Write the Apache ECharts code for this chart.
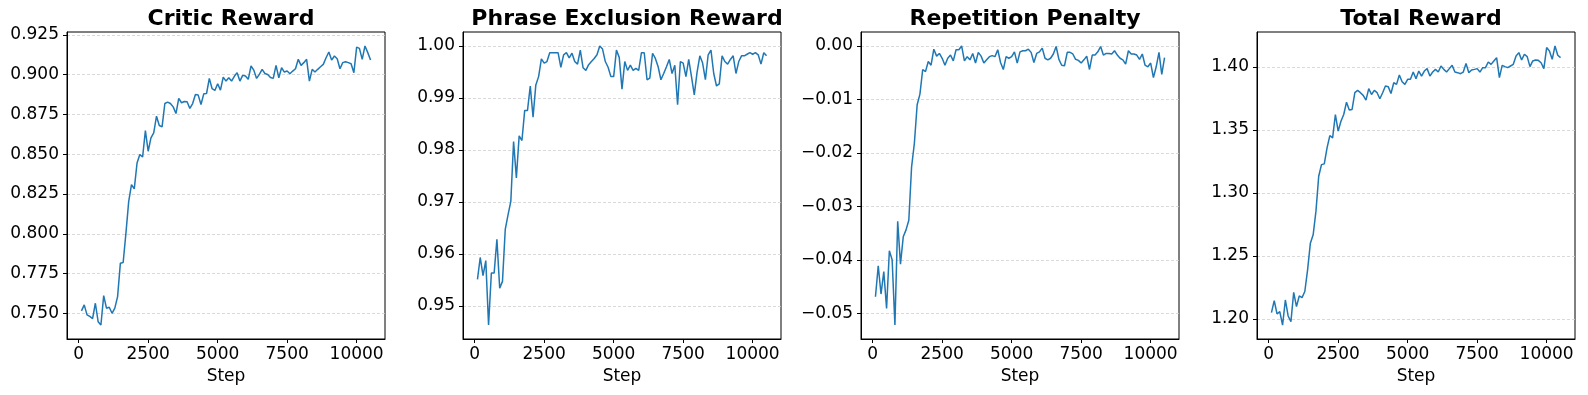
<!DOCTYPE html>
<html>
<head>
<meta charset="utf-8">
<script src="https://cdn.jsdelivr.net/npm/echarts@6/dist/echarts.min.js"></script>
<style>
html,body{margin:0;padding:0;background:#fff;}
#chart{width:1588px;height:395px;}
</style>
</head>
<body>
<div id="chart"></div>
<script>
var steps = [100,200,300,400,500,600,700,800,900,1000,1100,1200,1300,1400,1500,1600,1700,1800,1900,2000,
2100,2200,2300,2400,2500,2600,2700,2800,2900,3000,3100,3200,3300,3400,3500,3600,3700,3800,3900,4000,
4100,4200,4300,4400,4500,4600,4700,4800,4900,5000,5100,5200,5300,5400,5500,5600,5700,5800,5900,6000,
6100,6200,6300,6400,6500,6600,6700,6800,6900,7000,7100,7200,7300,7400,7500,7600,7700,7800,7900,8000,
8100,8200,8300,8400,8500,8600,8700,8800,8900,9000,9100,9200,9300,9400,9500,9600,9700,9800,9900,10000,
10100,10200,10300,10400,10500];

var titles = ["Critic Reward", "Phrase Exclusion Reward", "Repetition Penalty", "Total Reward"];
var xLabel = "Step";
var xTicks = [0, 2500, 5000, 7500, 10000];

var criticReward = [0.7515,0.7553,0.7490,0.7480,0.7467,0.7563,0.7447,0.7426,0.7611,0.7532,
0.7538,0.7500,0.7532,0.7605,0.7815,0.7819,0.8004,0.8204,0.8309,0.8282,
0.8445,0.8498,0.8483,0.8649,0.8519,0.8603,0.8634,0.8739,0.8681,0.8672,
0.8819,0.8828,0.8819,0.8798,0.8756,0.8851,0.8824,0.8832,0.8830,0.8788,
0.8819,0.8876,0.8872,0.8813,0.8880,0.8882,0.8977,0.8912,0.8901,0.8943,
0.8903,0.8985,0.8960,0.8981,0.8960,0.8990,0.9013,0.8960,0.8996,0.8992,
0.8971,0.9055,0.9029,0.8977,0.9002,0.9034,0.9008,0.9002,0.8983,0.8977,
0.9059,0.8981,0.9044,0.9017,0.9023,0.9006,0.9023,0.9038,0.9097,0.9059,
0.9076,0.9097,0.8960,0.9034,0.9017,0.9034,0.9050,0.9065,0.9107,0.9143,
0.9092,0.9118,0.9101,0.9038,0.9076,0.9082,0.9076,0.9069,0.9013,0.9174,
0.9166,0.9097,0.9181,0.9139,0.9092];

var phraseExclusionReward = [0.9551,0.9593,0.9558,0.9587,0.9463,0.9563,0.9563,0.9628,0.9534,0.9547,
0.9647,0.9675,0.9701,0.9816,0.9746,0.9827,0.9818,0.9876,0.9876,0.9923,
0.9863,0.9925,0.9941,0.9975,0.9967,0.9970,0.9987,0.9987,0.9987,0.9987,
0.9959,0.9983,0.9987,0.9977,0.9986,0.9970,0.9965,0.9992,0.9958,0.9953,
0.9964,0.9970,0.9976,0.9983,1.0000,0.9994,0.9970,0.9959,0.9941,0.9941,
0.9992,0.9978,0.9917,0.9970,0.9953,0.9963,0.9953,0.9957,0.9953,0.9987,
0.9987,0.9935,0.9938,0.9986,0.9976,0.9960,0.9935,0.9947,0.9960,0.9974,
0.9947,0.9963,0.9887,0.9970,0.9967,0.9941,0.9974,0.9941,0.9906,0.9949,
0.9981,0.9967,0.9935,0.9983,0.9992,0.9947,0.9923,0.9927,0.9981,0.9970,
0.9965,0.9974,0.9981,0.9947,0.9970,0.9981,0.9981,0.9984,0.9987,0.9984,
0.9987,0.9983,0.9965,0.9987,0.9981];

var repetitionPenalty = [-0.0469,-0.0411,-0.0464,-0.0422,-0.0491,-0.0383,-0.0400,-0.0522,-0.0328,-0.0408,
-0.0357,-0.0344,-0.0326,-0.0226,-0.0182,-0.0110,-0.0090,-0.0044,-0.0048,-0.0029,
-0.0036,-0.0006,-0.0019,-0.0014,-0.0023,-0.0036,-0.0023,-0.0017,-0.0028,-0.0007,
-0.0007,0.0000,-0.0028,-0.0020,-0.0026,-0.0014,-0.0032,-0.0012,-0.0019,-0.0032,
-0.0026,-0.0020,-0.0018,-0.0020,-0.0007,-0.0031,-0.0044,-0.0020,-0.0023,-0.0020,
-0.0011,-0.0032,-0.0011,-0.0009,-0.0009,-0.0006,-0.0012,-0.0031,-0.0014,-0.0011,
-0.0004,-0.0023,-0.0026,-0.0023,-0.0015,-0.0001,-0.0025,-0.0036,-0.0037,-0.0012,
-0.0012,-0.0015,-0.0025,-0.0027,-0.0032,-0.0026,-0.0019,-0.0044,-0.0017,-0.0017,
-0.0011,-0.0001,-0.0017,-0.0014,-0.0014,-0.0015,-0.0009,-0.0017,-0.0023,-0.0026,
-0.0034,-0.0009,-0.0015,-0.0015,-0.0017,-0.0025,-0.0015,-0.0036,-0.0039,-0.0032,
-0.0059,-0.0039,-0.0012,-0.0053,-0.0022];

var totalReward = [1.2050,1.2146,1.2040,1.2058,1.1952,1.2151,1.2024,1.1979,1.2212,1.2098,
1.2183,1.2170,1.2218,1.2390,1.2602,1.2668,1.2854,1.3133,1.3225,1.3231,
1.3358,1.3456,1.3438,1.3623,1.3491,1.3570,1.3623,1.3721,1.3658,1.3663,
1.3796,1.3814,1.3796,1.3775,1.3737,1.3828,1.3782,1.3814,1.3796,1.3748,
1.3796,1.3849,1.3844,1.3790,1.3875,1.3862,1.3936,1.3883,1.3862,1.3902,
1.3902,1.3960,1.3907,1.3968,1.3928,1.3968,1.3987,1.3928,1.3960,1.3981,
1.3960,1.4008,1.3981,1.3960,1.3987,1.4013,1.3960,1.3955,1.3947,1.3960,
1.4027,1.3955,1.3976,1.3981,1.3987,1.3960,1.3995,1.3995,1.4040,1.4021,
1.4048,1.4074,1.3915,1.4013,1.4003,1.3995,1.4008,1.4021,1.4088,1.4114,
1.4056,1.4101,1.4082,1.4003,1.4048,1.4056,1.4053,1.4034,1.3987,1.4154,
1.4127,1.4061,1.4167,1.4093,1.4074];

var yTicksCritic = [0.750, 0.775, 0.800, 0.825, 0.850, 0.875, 0.900, 0.925];
var yTicksPhrase = [0.95, 0.96, 0.97, 0.98, 0.99, 1.00];
var yTicksRep = [-0.05, -0.04, -0.03, -0.02, -0.01, 0.00];
var yTicksTotal = [1.20, 1.25, 1.30, 1.35, 1.40];

var seriesList = [criticReward, phraseExclusionReward, repetitionPenalty, totalReward];
var yTickList = [yTicksCritic, yTicksPhrase, yTicksRep, yTicksTotal];
var decimals = [3, 2, 2, 2];

var FONT = "DejaVu Sans";
var gridLefts = [67, 463, 861, 1257];
var gridW = 318, gridTop = 32, gridH = 307;

function padRange(arr) {
  var mn = Math.min.apply(null, arr), mx = Math.max.apply(null, arr);
  var m = (mx - mn) * 0.05;
  return [mn - m, mx + m];
}
var xr = padRange(steps);

var option = {
  backgroundColor: '#ffffff',
  animation: false,
  title: [], grid: [], xAxis: [], yAxis: [], series: []
};

for (var k = 0; k < 4; k++) {
  var yr = padRange(seriesList[k]);
  option.title.push({
    text: titles[k],
    left: gridLefts[k] + gridW / 2,
    textAlign: 'center',
    top: 3,
    textStyle: {fontFamily: FONT, fontSize: 22, fontWeight: 'bold', color: '#000'}
  });
  option.grid.push({
    left: gridLefts[k], top: gridTop, width: gridW, height: gridH,
    show: true, borderColor: '#000', borderWidth: 1, backgroundColor: 'transparent'
  });
  option.xAxis.push({
    type: 'value', gridIndex: k, min: xr[0], max: xr[1],
    name: xLabel, nameLocation: 'middle', nameGap: 29,
    nameTextStyle: {fontFamily: FONT, fontSize: 17, color: '#000'},
    axisLine: {show: true, onZero: false, lineStyle: {color: '#000', width: 1}},
    axisTick: {show: true, customValues: xTicks, length: 4, lineStyle: {color: '#000', width: 1}},
    axisLabel: {customValues: xTicks, fontFamily: FONT, fontSize: 17, color: '#000', margin: 7,
      formatter: function(v){ return String(v); }},
    splitLine: {show: false}
  });
  (function(dec){
    option.yAxis.push({
      type: 'value', gridIndex: k, min: yr[0], max: yr[1],
      axisLine: {show: true, onZero: false, lineStyle: {color: '#000', width: 1}},
      axisTick: {show: true, customValues: yTickList[k], length: 4, lineStyle: {color: '#000', width: 1}},
      axisLabel: {customValues: yTickList[k], fontFamily: FONT, fontSize: 17, color: '#000', margin: 8,
        formatter: function(v){ var s = Math.abs(v).toFixed(dec); return (v < -1e-9 ? '\u2212' : '') + s; }},
      splitLine: {show: true, lineStyle: {color: '#cfcfcf', width: 0.8, type: [3, 2]}}
    });
  })(decimals[k]);
  var d = [];
  for (var i = 0; i < steps.length; i++) d.push([steps[i], seriesList[k][i]]);
  option.series.push({
    type: 'line', xAxisIndex: k, yAxisIndex: k, data: d,
    showSymbol: false, symbol: 'none', smooth: false,
    lineStyle: {color: '#1f77b4', width: 1.5}
  });
}

var chart = echarts.init(document.getElementById('chart'), null, {renderer: 'canvas'});
chart.setOption(option);
</script>
</body>
</html>
